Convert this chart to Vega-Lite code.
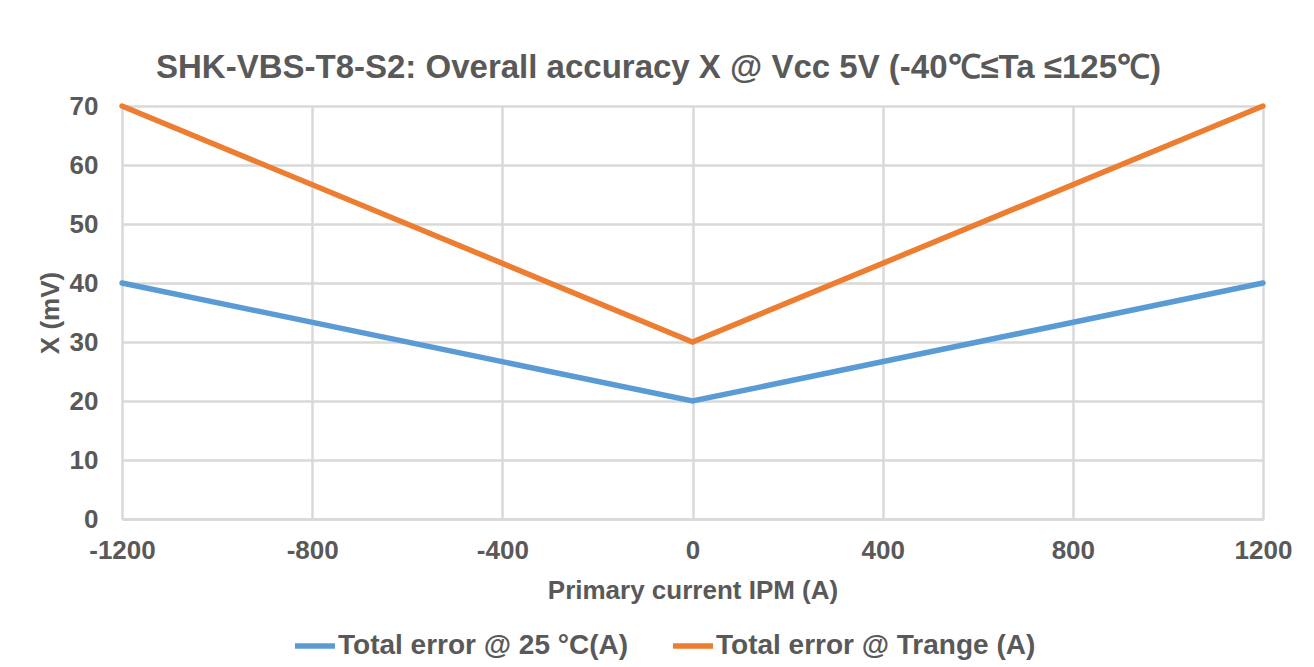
{
  "$schema": "https://vega.github.io/schema/vega-lite/v6.json",
  "width": 1141,
  "height": 413,
  "autosize": {"type": "none"},
  "padding": {"left": 122, "top": 106, "right": 51, "bottom": 148},
  "background": "white",
  "title": {
    "text": "SHK-VBS-T8-S2: Overall accuracy X @ Vcc 5V (-40℃≤Ta ≤125℃)",
    "font": "Liberation Sans",
    "fontSize": 33,
    "fontWeight": "bold",
    "color": "#595959",
    "anchor": "middle",
    "dx": -34,
    "offset": 8
  },
  "data": {
    "values": [
      {"current": -1200, "error": 40, "series": "Total error @ 25 °C(A)"},
      {"current": 0, "error": 20, "series": "Total error @ 25 °C(A)"},
      {"current": 1200, "error": 40, "series": "Total error @ 25 °C(A)"},
      {"current": -1200, "error": 70, "series": "Total error @ Trange (A)"},
      {"current": 0, "error": 30, "series": "Total error @ Trange (A)"},
      {"current": 1200, "error": 70, "series": "Total error @ Trange (A)"}
    ]
  },
  "mark": {"type": "line", "strokeWidth": 5.5, "strokeCap": "round", "strokeJoin": "miter"},
  "encoding": {
    "x": {
      "field": "current",
      "type": "quantitative",
      "scale": {"domain": [-1200, 1200], "nice": false, "zero": false},
      "axis": {
        "values": [-1200, -800, -400, 0, 400, 800, 1200],
        "labelExpr": "'' + datum.value",
        "labelFlush": false,
        "labelOverlap": false,
        "title": "Primary current IPM (A)",
        "titlePadding": 14,
        "labelPadding": 18
      }
    },
    "y": {
      "field": "error",
      "type": "quantitative",
      "scale": {"domain": [0, 70], "nice": false},
      "axis": {
        "values": [0, 10, 20, 30, 40, 50, 60, 70],
        "title": "X (mV)",
        "titlePadding": 6,
        "labelPadding": 24,
        "domain": false
      }
    },
    "color": {
      "field": "series",
      "type": "nominal",
      "scale": {"range": ["#5B9BD5", "#ED7D31"]},
      "legend": {
        "title": null,
        "orient": "none",
        "direction": "horizontal",
        "legendX": 170,
        "legendY": 517,
        "symbolType": "stroke",
        "symbolSize": 1600,
        "symbolStrokeWidth": 5.5,
        "labelFont": "Liberation Sans",
        "labelFontSize": 28,
        "labelFontWeight": "bold",
        "labelColor": "#595959",
        "labelOffset": 0,
        "columnPadding": 33,
        "labelLimit": 500
      }
    }
  },
  "config": {
    "view": {"stroke": null},
    "axis": {
      "labelFont": "Liberation Sans",
      "labelFontSize": 26,
      "labelFontWeight": "bold",
      "labelColor": "#595959",
      "titleFont": "Liberation Sans",
      "titleFontSize": 26,
      "titleFontWeight": "bold",
      "titleColor": "#595959",
      "ticks": false,
      "grid": true,
      "gridColor": "#D9D9D9",
      "gridWidth": 2.5,
      "domainColor": "#D9D9D9",
      "domainWidth": 2.5
    }
  }
}
